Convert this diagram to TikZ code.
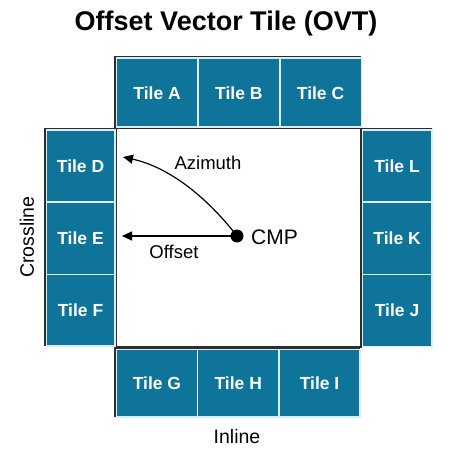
\documentclass[tikz,border=0pt]{standalone}
\usepackage{fontspec}
\setmainfont{Liberation Sans}
\usetikzlibrary{arrows.meta}
\definecolor{tileblue}{RGB}{14,116,154}
\definecolor{tileedge}{RGB}{220,236,243}
\definecolor{frame}{RGB}{45,45,45}
\tikzset{
  x=1bp, y=-1bp,
  tilebox/.style={draw=tileedge, line width=1.6bp, fill=tileblue, text=white,
    font=\fontsize{17.5bp}{20bp}\selectfont\bfseries, inner sep=0pt, anchor=north west},
  grp/.style={draw=frame, line width=1.2bp},
  lbl/.style={font=\fontsize{18.5bp}{22bp}\selectfont, text=black, inner sep=0pt},
  arr/.style={line width=1.2bp, -{Triangle[length=10bp,width=9bp]}},
}
\begin{document}
\begin{tikzpicture}
\useasboundingbox (0,0) rectangle (468,458);
\fill[white] (0,0) rectangle (468,458);
% title
\node[font=\fontsize{27bp}{30bp}\selectfont\bfseries, inner sep=0pt] (title) at (226,24) {Offset Vector Tile (OVT)};
% central box
\node[draw=frame, line width=1.5bp, fill=white, minimum width=245bp, minimum height=218bp, inner sep=0pt, anchor=north west] (box) at (115,128) {};
% group outlines
\draw[grp] (115,57) rectangle (360,127);
\draw[grp] (45,129) rectangle (114,345);
\draw[grp] (361,129) rectangle (431,346);
\draw[grp] (115,348) rectangle (359,416);
% top tiles
\node[tilebox, minimum width=81.7bp, minimum height=69bp] (tA) at (115.5,57.5) {Tile A};
\node[tilebox, minimum width=81.7bp, minimum height=69bp] (tB) at (197.2,57.5) {Tile B};
\node[tilebox, minimum width=81.7bp, minimum height=69bp] (tC) at (278.9,57.5) {Tile C};
% left tiles
\node[tilebox, minimum width=68.5bp, minimum height=72bp] (tD) at (45.5,129.5) {Tile D};
\node[tilebox, minimum width=68.5bp, minimum height=72bp] (tE) at (45.5,201.5) {Tile E};
\node[tilebox, minimum width=68.5bp, minimum height=71.5bp] (tF) at (45.5,273.5) {Tile F};
% right tiles
\node[tilebox, minimum width=69.5bp, minimum height=72bp] (tL) at (361.5,129.5) {Tile L};
\node[tilebox, minimum width=69.5bp, minimum height=72bp] (tK) at (361.5,201.5) {Tile K};
\node[tilebox, minimum width=69.5bp, minimum height=72bp] (tJ) at (361.5,273.5) {Tile J};
% bottom tiles
\node[tilebox, minimum width=81.3bp, minimum height=67.5bp] (tG) at (115.5,348.5) {Tile G};
\node[tilebox, minimum width=81.3bp, minimum height=67.5bp] (tH) at (196.8,348.5) {Tile H};
\node[tilebox, minimum width=81.3bp, minimum height=67.5bp] (tI) at (278.1,348.5) {Tile I};
% CMP
\node[circle, fill=black, minimum size=13bp, inner sep=0pt] (cmp) at (237,236) {};
\node[font=\fontsize{21bp}{24bp}\selectfont, inner sep=0pt, anchor=west] (cmplbl) at (251,237) {CMP};
\coordinate (offtip) at (122,236);
\coordinate (aztip) at (123,157);
\draw[arr] (cmp.center) -- (offtip);
\draw[arr] (cmp.center) .. controls (205,195) and (168,167) .. (aztip);
\node[lbl] (offlbl) at (174,252) {Offset};
\node[lbl] (azlbl) at (208,163) {Azimuth};
% axis labels
\node[lbl, font=\fontsize{19.5bp}{22bp}\selectfont] (inline) at (237,437) {Inline};
\node[lbl, font=\fontsize{19.5bp}{22bp}\selectfont, rotate=90] (crossline) at (27,237) {Crossline};
\end{tikzpicture}
\end{document}
